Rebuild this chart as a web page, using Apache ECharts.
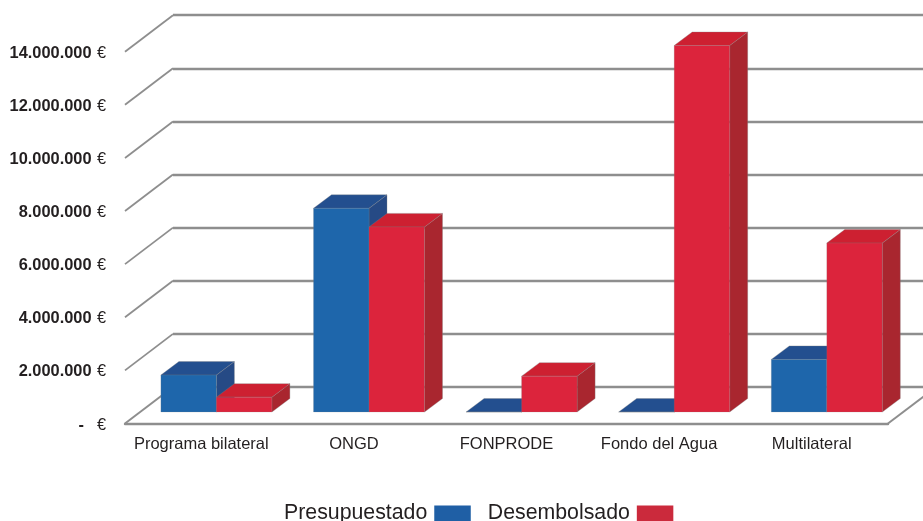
<!DOCTYPE html>
<html><head><meta charset="utf-8">
<style>html,body{margin:0;padding:0;background:#fff}#c{width:923px;height:521px}</style>
<script src="https://cdn.jsdelivr.net/npm/echarts@6/dist/echarts.min.js"></script>
</head><body><div id="c"></div>
<script>
const categories = ['Programa bilateral','ONGD','FONPRODE','Fondo del Agua','Multilateral'];
const presupuestado = [1390000,7670000,0,0,1980000];
const desembolsado = [560000,6970000,1350000,13800000,6360000];
const tickValues = [0,2000000,4000000,6000000,8000000,10000000,12000000,14000000];
const tickLabels = ['-','2.000.000','4.000.000','6.000.000','8.000.000','10.000.000','12.000.000','14.000.000'];

const font = '"Liberation Sans", Arial, sans-serif';
const textColor = '#231f20';
const gridColor = '#8e8e8e';
const wall = {dx:48, dy:-36.5};
const barBase = {dx:15.1, dy:-11.5};
const barDepth = {dx:18, dy:-13.5};
const barWidth = 55.5;
const blue = {front:'#1e66ab', top:'#234f8f', side:'#264a85', legend:'#1f5fa5'};
const red = {front:'#dc243c', top:'#cd2031', side:'#a9262f', legend:'#cb2a3c'};

function barRender(colors, side){
  return function(params, api){
    const p = api.coord([api.value(0), api.value(1)]);
    const b = api.coord([api.value(0), 0]);
    const cx = p[0] + barBase.dx;
    const x0 = side < 0 ? cx - barWidth : cx;
    const x1 = x0 + barWidth;
    const yT = p[1] + barBase.dy, yB = b[1] + barBase.dy;
    const dx = barDepth.dx, dy = barDepth.dy;
    const edge = {stroke:'rgba(130,130,130,0.55)', lineWidth:0.6};
    return {type:'group', children:[
      {type:'polygon', shape:{points:[[x1,yB],[x1+dx,yB+dy],[x1+dx,yT+dy],[x1,yT]]}, style:Object.assign({fill:colors.side}, edge)},
      {type:'polygon', shape:{points:[[x0,yT],[x0+dx,yT+dy],[x1+dx,yT+dy],[x1,yT]]}, style:Object.assign({fill:colors.top}, edge)},
      {type:'polygon', shape:{points:[[x0,yT],[x1,yT],[x1,yB],[x0,yB]]}, style:{fill:colors.front, stroke:'rgba(130,130,130,0.4)', lineWidth:0.5}}
    ]};
  };
}
function frameRender(params, api){
  const v = api.value(1);
  const y = api.coord([0, v])[1];
  const left = params.coordSys.x, right = left + params.coordSys.width;
  const children = [{type:'line', shape:{x1:left,y1:y,x2:left+wall.dx,y2:y+wall.dy}, style:{stroke:gridColor, lineWidth:v===0?2:1.8}}];
  if (v === 0) children.push({type:'line', shape:{x1:right,y1:y,x2:right+wall.dx,y2:y+wall.dy}, style:{stroke:gridColor, lineWidth:2}});
  return {type:'group', children};
}
const chart = echarts.init(document.getElementById('c'), null, {renderer:'canvas'});
chart.setOption({
  animation:false,
  backgroundColor:'#fff',
  legend:{
    data:['Presupuestado','Desembolsado'], left:284, top:503, padding:0, align:'right', icon:'rect',
    itemWidth:36.5, itemHeight:16, itemGap:17, selectedMode:false,
    textStyle:{fontFamily:font, fontSize:21.3, color:textColor, padding:[1,2,0,0]}
  },
  grid:[
    {left:125, right:35, top:51.7, bottom:97.5},
    {left:173, right:0, top:15.2, height:371.8}
  ],
  xAxis:[
    {type:'category', gridIndex:0, data:categories,
     axisLine:{lineStyle:{color:gridColor,width:2.4}}, axisTick:{show:false},
     axisLabel:{fontFamily:font,fontSize:16.5,color:textColor,margin:12,interval:0}, splitLine:{show:false}},
    {type:'category', gridIndex:1, data:categories, show:false}
  ],
  yAxis:[
    {type:'value', gridIndex:0, min:0, max:14000000, interval:2000000,
     axisLine:{show:false}, axisTick:{show:false}, splitLine:{show:false},
     axisLabel:{margin:19, padding:[3,0,0,0], formatter:function(v){
        const s = tickLabels[tickValues.indexOf(v)];
        return v===0 ? '{b|'+s+'}   {z|€}' : '{b|'+s+'} {e|€}';
     }, rich:{b:{fontFamily:font,fontSize:16.4,fontWeight:'bold',color:textColor},
              e:{fontFamily:font,fontSize:16.4,color:textColor,padding:[0,0,0,2]},
              z:{fontFamily:font,fontSize:16.4,color:textColor,padding:[0,0,0,3]}}}},
    {type:'value', gridIndex:1, min:0, max:14000000, interval:2000000,
     axisLine:{show:false}, axisTick:{show:false}, axisLabel:{show:false},
     splitLine:{show:true, lineStyle:{color:gridColor,width:2.4}}}
  ],
  series:[
    {type:'custom', name:'frame', silent:true, clip:false, renderItem:frameRender, z:1,
     data:tickValues.map(v=>[0,v])},
    {type:'custom', name:'Presupuestado', clip:false, z:2, itemStyle:{color:blue.legend}, renderItem:barRender(blue,-1),
     data:presupuestado.map((v,i)=>[i,v])},
    {type:'custom', name:'Desembolsado', clip:false, z:3, itemStyle:{color:red.legend}, renderItem:barRender(red,1),
     data:desembolsado.map((v,i)=>[i,v])}
  ]
});
</script></body></html>
